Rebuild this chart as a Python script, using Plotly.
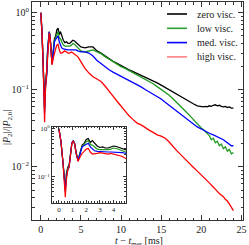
import plotly.graph_objects as go

# ---- data: t - t_mer [ms] and |P2|/|P2,0| for four viscosity levels ----
t_ms = [0.0, 0.15, 0.3, 0.4, 0.47, 0.55, 0.65, 0.75, 0.85, 0.95, 1.05, 1.15, 1.25, 1.4, 1.55, 1.7, 1.85,
        2.0, 2.15, 2.3, 2.45, 2.6, 2.8, 3.0, 3.2, 3.4, 3.6, 3.8, 4.0, 4.2, 4.4, 4.6, 4.8, 5.0,
        5.5, 6.0, 6.5, 7.0, 7.5, 8.0, 8.5, 9.0, 9.5, 10.0, 10.5, 11.0, 11.5, 12.0, 12.5, 13.0, 13.5,
        14.0, 14.5, 15.0, 15.5, 16.0, 16.5, 17.0, 17.5, 18.0, 18.5, 19.0, 19.5, 20.0,
        20.25, 20.5, 20.75, 21.0, 21.25, 21.5, 21.75, 22.0, 22.25, 22.5, 22.75, 23.0, 23.25, 23.5, 23.75, 24.0]

zero_visc = [1.0, 0.55, 0.2, 0.09, 0.06, 0.12, 0.16, 0.18, 0.33, 0.5, 0.57, 0.5, 0.34, 0.22, 0.32, 0.46, 0.5,
             0.6, 0.63, 0.52, 0.57, 0.5, 0.44, 0.41, 0.42, 0.40, 0.40, 0.42, 0.44, 0.43, 0.41, 0.39, 0.37, 0.36,
             0.35, 0.36, 0.36, 0.32, 0.30, 0.275, 0.255, 0.235, 0.22, 0.205, 0.193, 0.182, 0.172, 0.163, 0.156, 0.148, 0.139,
             0.131, 0.123, 0.115, 0.107, 0.1, 0.093, 0.087, 0.081, 0.075, 0.07, 0.066, 0.062, 0.061,
             0.060, 0.061, 0.060, 0.062, 0.061, 0.063, 0.064, 0.062, 0.063, 0.061, 0.060, 0.061, 0.059, 0.060, 0.058, 0.058]

low_visc = [1.0, 0.55, 0.2, 0.09, 0.055, 0.11, 0.15, 0.17, 0.32, 0.5, 0.56, 0.49, 0.33, 0.22, 0.31, 0.44, 0.47,
            0.54, 0.57, 0.47, 0.46, 0.42, 0.38, 0.37, 0.37, 0.365, 0.37, 0.38, 0.40, 0.39, 0.37, 0.35, 0.33, 0.32,
            0.31, 0.32, 0.33, 0.31, 0.295, 0.27, 0.25, 0.23, 0.215, 0.2, 0.19, 0.178, 0.168, 0.158, 0.148, 0.138, 0.128,
            0.12, 0.11, 0.101, 0.094, 0.085, 0.076, 0.068, 0.06, 0.053, 0.047, 0.041, 0.036, 0.032,
            0.0305, 0.029, 0.027, 0.0255, 0.0225, 0.0235, 0.0205, 0.0215, 0.0188, 0.0198, 0.0172, 0.0182, 0.016, 0.0168, 0.0148, 0.0153]

med_visc = [1.0, 0.55, 0.2, 0.08, 0.05, 0.10, 0.14, 0.16, 0.33, 0.52, 0.56, 0.5, 0.32, 0.22, 0.30, 0.42, 0.45,
            0.48, 0.50, 0.42, 0.38, 0.35, 0.34, 0.335, 0.33, 0.33, 0.33, 0.33, 0.33, 0.33, 0.33, 0.32, 0.315, 0.31,
            0.31, 0.30, 0.275, 0.24, 0.22, 0.198, 0.182, 0.17, 0.16, 0.15, 0.142, 0.133, 0.125, 0.117, 0.109, 0.101, 0.094,
            0.088, 0.082, 0.076, 0.069, 0.063, 0.058, 0.053, 0.048, 0.044, 0.04, 0.036, 0.033, 0.031,
            0.030, 0.029, 0.028, 0.027, 0.0265, 0.026, 0.0252, 0.0245, 0.024, 0.0235, 0.0225, 0.0215, 0.0205, 0.0195, 0.0188, 0.0188]

high_visc = [1.0, 0.55, 0.2, 0.07, 0.038, 0.09, 0.14, 0.16, 0.32, 0.5, 0.55, 0.48, 0.32, 0.21, 0.26, 0.31, 0.34,
             0.38, 0.39, 0.33, 0.30, 0.30, 0.31, 0.32, 0.31, 0.30, 0.30, 0.31, 0.30, 0.29, 0.28, 0.27, 0.25, 0.23,
             0.19, 0.165, 0.148, 0.138, 0.128, 0.112, 0.098, 0.083, 0.071, 0.061, 0.053, 0.046, 0.041, 0.037, 0.035, 0.032, 0.030,
             0.028, 0.026, 0.025, 0.0235, 0.021, 0.018, 0.016, 0.0142, 0.0127, 0.0112, 0.0099, 0.0088, 0.0079,
             0.0074, 0.0070, 0.0066, 0.0062, 0.0058, 0.0055, 0.0051, 0.0048, 0.0045, 0.0043, 0.0041, 0.0038, 0.0036, 0.0033, 0.0030, 0.0027]

series_names = ["zero visc.", "low visc.", "med. visc.", "high visc."]
series_values = [zero_visc, low_visc, med_visc, high_visc]
series_colors = ["#000000", "#1f9a1f", "#0000ff", "#ff0000"]
legend_colors = ["#000000", "#2ca02c", "#0000ff", "#ff8080"]

main_xticks = [0, 5, 10, 15, 20, 25]
main_yticks = [1, 0.1, 0.01]
main_yticklabels = ["10<sup>0</sup>", "10<sup>\u22121</sup>", "10<sup>\u22122</sup>"]
inset_xticks = [0, 1, 2, 3, 4]
inset_yticks = [1, 0.1]
inset_yticklabels = ["10<sup>0</sup>", "10<sup>\u22121</sup>"]

FONT = "Liberation Serif"
minor_log = [m * 10 ** e for e in range(-3, 1) for m in range(2, 10)]

fig = go.Figure()
for name, vals, col in zip(series_names, series_values, series_colors):
    fig.add_trace(go.Scatter(x=t_ms, y=vals, mode="lines", name=name, line=dict(color=col, width=1.3),
                             showlegend=False, xaxis="x", yaxis="y"))
for name, vals, col in zip(series_names, series_values, series_colors):
    fig.add_trace(go.Scatter(x=t_ms, y=vals, mode="lines", name=name, line=dict(color=col, width=1.2),
                             showlegend=False, xaxis="x2", yaxis="y2"))

# hand-built legend (compact row spacing, short line samples)
W, H = 249, 245
ML, MR, MT, MB = 32, 6, 2, 25
pw, ph = W - ML - MR, H - MT - MB
def px_x(p): return (p - ML) / pw
def px_y(p): return (H - MB - p) / ph

shapes, annotations = [], []
for i, (name, lcol) in enumerate(zip(series_names, legend_colors)):
    yrow = px_y(14 + 14.3 * i)
    shapes.append(dict(type="line", xref="paper", yref="paper", x0=px_x(167), x1=px_x(187),
                       y0=yrow, y1=yrow, line=dict(color=lcol, width=1.6)))
    annotations.append(dict(text=name, xref="paper", yref="paper", x=px_x(195), y=yrow,
                            xanchor="left", yanchor="middle", showarrow=False, font=dict(size=10)))

annotations.append(dict(text="|<i>P</i><sub>2</sub>|/|<i>P</i><sub>2,0</sub>|", textangle=-90,
                        xref="paper", yref="paper", x=px_x(7), y=px_y(128), showarrow=False,
                        font=dict(size=10), xanchor="center", yanchor="middle"))
annotations.append(dict(text="<i>t</i> \u2212 <i>t</i><sub>mer</sub> [ms]",
                        xref="paper", yref="paper", x=px_x(139), y=px_y(234), showarrow=False,
                        font=dict(size=10), xanchor="center", yanchor="top", borderpad=0))

axis_common = dict(showline=True, linecolor="#333", linewidth=1, mirror="ticks", ticks="inside",
                   showgrid=False, zeroline=False, tickcolor="#333", automargin=False)

fig.update_layout(
    width=W, height=H,
    margin=dict(l=ML, r=MR, t=MT, b=MB),
    paper_bgcolor="white", plot_bgcolor="white",
    font=dict(family=FONT, size=10, color="#222"),
    showlegend=False,
    xaxis=dict(domain=[0, 1], range=[-1.1, 25.2], tickvals=main_xticks, ticklen=5,
               minor=dict(ticks="inside", dtick=1, ticklen=2.5, tickcolor="#333"),
               tickfont=dict(size=10), **axis_common),
    yaxis=dict(domain=[0, 1], type="log", range=[-2.69, 0.14], tickvals=main_yticks,
               ticktext=main_yticklabels, ticklen=5,
               minor=dict(ticks="inside", tickvals=minor_log, ticklen=2.5, tickcolor="#333"),
               tickfont=dict(size=10), **axis_common),
    xaxis2=dict(domain=[0.095, 0.445], anchor="y2", range=[-0.5, 4.9], tickvals=inset_xticks, ticklen=3,
                minor=dict(ticks="inside", dtick=0.2, ticklen=1.5, tickcolor="#333"),
                tickfont=dict(size=7), **axis_common),
    yaxis2=dict(domain=[0.078, 0.427], anchor="x2", type="log", range=[-1.54, 0.04],
                tickvals=inset_yticks, ticktext=inset_yticklabels, ticklen=3,
                minor=dict(ticks="inside", tickvals=minor_log, ticklen=1.5, tickcolor="#333"),
                tickfont=dict(size=7), **axis_common),
    shapes=shapes,
    annotations=annotations,
)

fig.write_html("out.html", config={"displayModeBar": False, "staticPlot": True},
               post_script="document.body.style.margin='0';document.body.style.overflow='hidden';")
